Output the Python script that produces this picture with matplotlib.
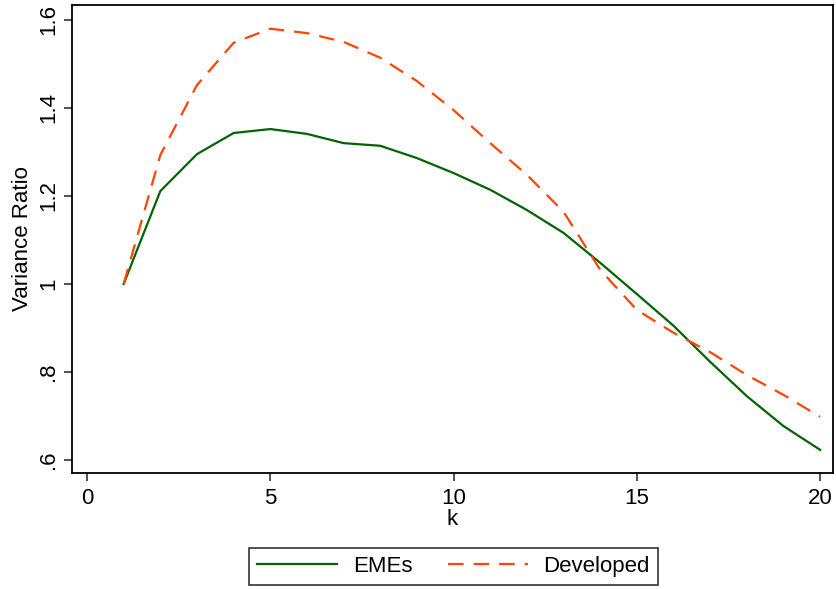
import matplotlib.pyplot as plt

plt.rcParams['font.family'] = ['Liberation Sans', 'DejaVu Sans']

k = list(range(1, 21))
emes = [1.000, 1.211, 1.295, 1.343, 1.352, 1.341, 1.320, 1.314, 1.286, 1.252,
        1.214, 1.168, 1.116, 1.048, 0.977, 0.905, 0.823, 0.745, 0.677, 0.623]
developed = [1.000, 1.293, 1.452, 1.548, 1.580, 1.570, 1.550, 1.514, 1.461, 1.395,
             1.320, 1.248, 1.164, 1.032, 0.941, 0.889, 0.845, 0.793, 0.748, 0.698]

xticks = [0, 5, 10, 15, 20]
yticks = [0.6, 0.8, 1.0, 1.2, 1.4, 1.6]
ytick_labels = ['.6', '.8', '1', '1.2', '1.4', '1.6']

fig = plt.figure(figsize=(8.36, 5.89), dpi=100)
ax = fig.add_axes([0.0861, 0.197, 0.9103, 0.7946])

ax.plot(k, emes, color='#006400', linewidth=1.6, label='EMEs')
ax.plot(k, developed, color='#ff4500', linewidth=1.6, linestyle=(0, (7, 4.5)),
        label='Developed')

ax.set_xlim(-0.41, 20.35)
ax.set_ylim(0.5705, 1.634)
ax.set_xticks(xticks)
ax.set_yticks(yticks)
ax.set_yticklabels(ytick_labels, rotation=90, va='center')
ax.tick_params(axis='both', direction='out', length=6, width=1.2,
               labelsize=16, color='#333333')
ax.tick_params(axis='x', pad=5)
ax.tick_params(axis='y', pad=3)
for s in ax.spines.values():
    s.set_linewidth(1.3)
    s.set_color('black')

ax.set_xlabel('k', fontsize=16, labelpad=0)
ax.set_ylabel('Variance Ratio', fontsize=16, labelpad=4)

leg = fig.legend(loc='center', bbox_to_anchor=(0.5425, 0.0385), ncol=2,
                 fontsize=16, frameon=True, fancybox=False, handlelength=3.6,
                 columnspacing=1.6, handletextpad=0.7, borderpad=0.35,
                 borderaxespad=0)
leg.get_frame().set_edgecolor('black')
leg.get_frame().set_linewidth(1.2)

plt.savefig('out.png', dpi=100)
